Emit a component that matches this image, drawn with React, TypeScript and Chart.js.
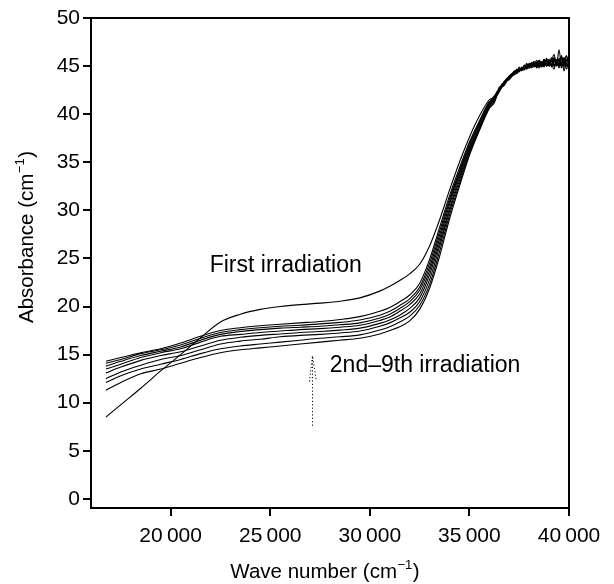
import React, { useEffect, useRef } from "react";
import { Chart, registerables } from "chart.js";

Chart.register(...registerables);

// ---------- data ----------
// smooth part of the spectra
const waveSmooth = [
  16750, 17500, 18500, 19500, 20500, 21500, 22500, 23500, 24500, 25500, 26500,
  27500, 28500, 29500, 30500, 31000, 31500, 32000, 32500, 33000, 33500, 34000,
  34500, 35000, 35500, 36000,
];
// noisy plateau
const wavePlateau = [
  36250, 36375, 36500, 36625, 36750, 36875, 37000, 37125, 37250, 37375, 37500,
  37625, 37750, 37875, 38000, 38125, 38250, 38375, 38500, 38625, 38750, 38875,
  39000, 39125, 39250, 39375, 39500, 39625, 39750, 39875, 40000,
];

const firstIrradiation = [
  8.5, 9.8, 11.5, 13.3, 15.0, 16.75, 18.4, 19.2, 19.7, 20.0, 20.2, 20.35, 20.55,
  20.9, 21.6, 22.1, 22.7, 23.4, 24.4, 26.3, 29.0, 32.1, 35.0, 37.6, 39.8, 41.5,
  41.8, 42.3, 42.5, 43.1, 43.3, 43.7, 43.9, 44.2, 44.1, 44.7, 44.5, 44.8, 44.6,
  45.3, 44.8, 45.2, 45.4, 44.8, 45.5, 45.1, 45.7, 45.0, 45.3, 45.9, 45.0, 45.6,
  45.2, 46.1, 44.9, 45.6, 45.3,
];
const irradiation2 = [
  14.3, 14.7, 15.2, 15.6, 16.2, 16.9, 17.5, 17.8, 18.0, 18.15, 18.3, 18.45,
  18.65, 18.95, 19.5, 19.9, 20.5, 21.2, 22.4, 24.9, 28.2, 31.5, 34.4, 37.1,
  39.3, 41.3,
  41.6, 42.1, 42.8, 42.9, 43.4, 43.5, 44.0, 44.0, 44.5, 44.3, 44.9, 44.6, 45.0,
  44.7, 45.3, 44.9, 45.0, 45.6, 44.9, 45.4, 45.2, 45.8, 45.0, 45.5, 46.2, 45.1,
  46.7, 45.0, 45.8, 44.7, 45.6,
];
const irradiation3 = [
  14.1, 14.5, 15.1, 15.5, 16.0, 16.7, 17.3, 17.6, 17.8, 17.95, 18.05, 18.2,
  18.35, 18.6, 19.1, 19.5, 20.1, 20.8, 22.0, 24.5, 27.8, 31.2, 34.1, 36.9,
  39.1, 41.2,
  41.9, 42.2, 42.7, 43.0, 43.3, 43.7, 43.8, 44.2, 44.4, 44.3, 44.8, 44.5, 45.1,
  44.9, 44.8, 45.4, 45.0, 45.3, 45.6, 44.9, 45.3, 45.6, 45.0, 45.7, 45.1, 45.5,
  44.8, 45.9, 45.2, 46.0, 45.0,
];
const irradiation4 = [
  13.8, 14.3, 14.9, 15.35, 15.8, 16.5, 17.1, 17.4, 17.6, 17.75, 17.85, 17.95,
  18.1, 18.3, 18.8, 19.2, 19.8, 20.5, 21.7, 24.1, 27.4, 30.9, 33.9, 36.7, 39.0,
  41.1,
  41.5, 42.3, 42.5, 43.1, 43.2, 43.5, 44.0, 44.0, 44.4, 44.6, 44.4, 44.9, 44.7,
  45.2, 44.8, 45.1, 45.5, 45.0, 45.4, 45.0, 45.7, 45.1, 45.6, 44.9, 45.8, 45.3,
  45.4, 46.0, 44.5, 45.6, 45.7,
];
const irradiation5 = [
  13.5, 14.0, 14.7, 15.2, 15.6, 16.3, 16.9, 17.1, 17.3, 17.45, 17.6, 17.7,
  17.85, 18.05, 18.55, 18.9, 19.5, 20.2, 21.3, 23.7, 27.0, 30.6, 33.7, 36.5,
  38.8, 41.0,
  41.7, 42.0, 42.6, 42.9, 43.4, 43.6, 43.8, 44.2, 44.2, 44.5, 44.7, 44.6, 45.0,
  44.8, 45.2, 45.0, 45.3, 44.9, 45.6, 45.2, 44.9, 45.7, 45.3, 45.1, 45.6, 45.0,
  45.8, 45.2, 45.5, 46.1, 44.9,
];
const irradiation6 = [
  13.1, 13.7, 14.4, 14.9, 15.3, 15.9, 16.5, 16.8, 17.0, 17.15, 17.3, 17.4,
  17.55, 17.75, 18.25, 18.6, 19.1, 19.8, 20.9, 23.3, 26.6, 30.2, 33.4, 36.3,
  38.6, 40.9,
  41.4, 42.1, 42.4, 43.0, 43.2, 43.6, 43.7, 44.1, 44.3, 44.4, 44.5, 44.8, 44.7,
  45.0, 45.1, 44.8, 45.3, 45.1, 45.0, 45.5, 45.1, 45.3, 45.7, 45.0, 45.4, 45.7,
  45.1, 45.4, 45.9, 45.0, 45.5,
];
const irradiation7 = [
  12.5, 13.2, 13.9, 14.5, 14.9, 15.5, 16.1, 16.4, 16.6, 16.85, 17.0, 17.1,
  17.25, 17.45, 17.95, 18.3, 18.8, 19.4, 20.5, 22.8, 26.2, 29.9, 33.1, 36.1,
  38.5, 40.8,
  41.6, 42.2, 42.5, 42.8, 43.3, 43.5, 43.9, 43.9, 44.3, 44.5, 44.6, 44.7, 44.9,
  44.8, 45.2, 45.3, 44.9, 45.4, 45.2, 45.0, 45.6, 45.2, 45.4, 45.1, 45.9, 45.3,
  45.0, 45.8, 45.1, 45.7, 45.6,
];
const irradiation8 = [
  12.1, 12.8, 13.5, 14.0, 14.5, 15.1, 15.6, 15.9, 16.1, 16.3, 16.5, 16.7,
  16.85, 17.05, 17.55, 17.9, 18.4, 19.0, 20.1, 22.3, 25.7, 29.5, 32.8, 35.9,
  38.4, 40.7,
  41.3, 41.9, 42.5, 42.8, 43.1, 43.5, 43.7, 44.0, 44.1, 44.4, 44.5, 44.7, 44.6,
  45.0, 44.9, 45.1, 45.2, 44.9, 45.3, 45.4, 45.0, 45.5, 45.1, 45.6, 45.0, 45.3,
  45.7, 44.8, 45.6, 45.2, 45.0,
];
const irradiation9 = [
  11.3, 12.1, 13.0, 13.5, 14.1, 14.7, 15.2, 15.5, 15.7, 15.9, 16.1, 16.3, 16.5,
  16.7, 17.15, 17.5, 17.9, 18.5, 19.7, 21.9, 25.2, 29.1, 32.5, 35.7, 38.3,
  40.6,
  41.2, 41.9, 42.3, 42.8, 43.0, 43.4, 43.6, 43.9, 44.2, 44.2, 44.5, 44.6, 44.8,
  44.7, 45.0, 45.0, 45.2, 45.1, 44.8, 45.3, 45.4, 45.0, 45.5, 45.2, 44.7, 45.6,
  45.3, 45.1, 45.8, 45.3, 45.4,
];

const allSeries = [
  firstIrradiation,
  irradiation2,
  irradiation3,
  irradiation4,
  irradiation5,
  irradiation6,
  irradiation7,
  irradiation8,
  irradiation9,
];

const xTicks = [20000, 25000, 30000, 35000, 40000];
const yTicks = [0, 5, 10, 15, 20, 25, 30, 35, 40, 45, 50];

// dotted arrow (wave number, absorbance)
const arrowShaftX = [27120, 27120];
const arrowShaftY = [7.6, 14.9];
const arrowHeadLeftX = [26970, 27120];
const arrowHeadLeftY = [12.2, 14.9];
const arrowHeadRightX = [27300, 27120];
const arrowHeadRightY = [12.45, 14.9];

// text notes (left edge wave number, middle absorbance)
const noteTexts = ["First irradiation", "2nd\u20139th irradiation"];
const noteX = [21960, 27990];
const noteY = [24.2, 13.8];

const FONT = '"Liberation Sans", Arial, Helvetica, sans-serif';

const waveNumbers = [...waveSmooth, ...wavePlateau];

function pts(xs: number[], ys: number[]) {
  return xs.map((x, i) => ({ x, y: ys[i] }));
}

function drawTitle(
  ctx: CanvasRenderingContext2D,
  main: string,
  sup: string,
  close: string,
  size: number
) {
  const supSize = Math.round(size * 0.62);
  ctx.font = `${size}px ${FONT}`;
  const w1 = ctx.measureText(main).width;
  const w3 = ctx.measureText(close).width;
  ctx.font = `${supSize}px ${FONT}`;
  const w2 = ctx.measureText(sup).width;
  const total = w1 + w2 + w3 + 1;
  let x = -total / 2;
  ctx.textAlign = "left";
  ctx.textBaseline = "middle";
  ctx.font = `${size}px ${FONT}`;
  ctx.fillText(main, x, 0);
  x += w1;
  ctx.font = `${supSize}px ${FONT}`;
  ctx.fillText(sup, x + 0.5, -size * 0.33);
  x += w2 + 1;
  ctx.font = `${size}px ${FONT}`;
  ctx.fillText(close, x, 0);
}

const overlayPlugin = {
  id: "overlay",
  afterDraw(chart: any) {
    const { ctx, chartArea: a, scales } = chart;
    const xs = scales.x;
    const ys = scales.y;
    ctx.save();
    ctx.strokeStyle = "#000";
    ctx.lineWidth = 2;
    ctx.strokeRect(a.left, a.top, a.right - a.left, a.bottom - a.top);

    ctx.fillStyle = "#000";
    ctx.font = `23px ${FONT}`;
    ctx.textAlign = "left";
    ctx.textBaseline = "middle";
    noteTexts.forEach((t, i) => {
      ctx.fillText(t, xs.getPixelForValue(noteX[i]), ys.getPixelForValue(noteY[i]));
    });

    // x title
    ctx.save();
    ctx.translate(325, 572);
    drawTitle(ctx, "Wave number (cm", "\u22121", ")", 20.5);
    ctx.restore();

    // y title
    ctx.save();
    ctx.translate(27, 237);
    ctx.rotate(-Math.PI / 2);
    drawTitle(ctx, "Absorbance (cm", "\u22121", ")", 20.5);
    ctx.restore();

    ctx.restore();
  },
};

function formatWave(v: number) {
  return String(v).replace(/(\d+)(\d{3})$/, "$1\u2009$2");
}

export default function App() {
  const canvasRef = useRef<HTMLCanvasElement | null>(null);

  useEffect(() => {
    const canvas = canvasRef.current;
    if (!canvas) return;

    const curveSets = allSeries.map((ys) => ({
      data: pts(waveNumbers, ys),
      showLine: true,
      borderColor: "#000",
      borderWidth: 1.1,
      pointRadius: 0,
      cubicInterpolationMode: "monotone" as const,
      fill: false,
    }));
    const arrowStyle = {
      showLine: true,
      borderColor: "#000",
      borderWidth: 1,
      borderDash: [1.2, 2.2],
      pointRadius: 0,
      tension: 0,
      fill: false,
    };

    const chart = new Chart(canvas, {
      type: "scatter",
      data: {
        datasets: [
          ...curveSets,
          { ...arrowStyle, data: pts(arrowShaftX, arrowShaftY) },
          { ...arrowStyle, data: pts(arrowHeadLeftX, arrowHeadLeftY) },
          { ...arrowStyle, data: pts(arrowHeadRightX, arrowHeadRightY) },
        ],
      },
      options: {
        animation: false,
        responsive: false,
        devicePixelRatio: 1,
        layout: { padding: { top: 18, right: 45, left: 0, bottom: 0 } },
        plugins: {
          legend: { display: false },
          tooltip: { enabled: false },
        },
        scales: {
          x: {
            type: "linear",
            position: "bottom",
            min: 16000,
            max: 40000,
            afterBuildTicks: (s: any) => {
              s.ticks = xTicks.map((v) => ({ value: v }));
            },
            afterFit: (s: any) => {
              s.height = 76;
            },
            grid: {
              display: true,
              drawOnChartArea: false,
              drawTicks: true,
              tickLength: 8,
              lineWidth: 2,
              color: "#000",
            },
            border: { display: true, color: "#000", width: 2 },
            ticks: {
              color: "#000",
              font: { family: FONT, size: 21 },
              padding: 8,
              maxRotation: 0,
              autoSkip: false,
              callback: (v: any) => formatWave(Number(v)),
            },
          },
          y: {
            type: "linear",
            min: -0.95,
            max: 50,
            afterBuildTicks: (s: any) => {
              s.ticks = yTicks.map((v) => ({ value: v }));
            },
            afterFit: (s: any) => {
              s.width = 91;
            },
            grid: {
              display: true,
              drawOnChartArea: false,
              drawTicks: true,
              tickLength: 8,
              lineWidth: 2,
              color: "#000",
            },
            border: { display: true, color: "#000", width: 2 },
            ticks: {
              color: "#000",
              font: { family: FONT, size: 21 },
              padding: 3,
              autoSkip: false,
              callback: (v: any) => String(v),
            },
          },
        },
      },
      plugins: [overlayPlugin],
    });

    return () => chart.destroy();
  }, []);

  return (
    <div
      style={{
        position: "absolute",
        left: 0,
        top: 0,
        width: 614,
        height: 584,
        background: "#fff",
      }}
    >
      <canvas
        ref={canvasRef}
        width={614}
        height={584}
        style={{ display: "block", width: 614, height: 584 }}
      />
    </div>
  );
}
